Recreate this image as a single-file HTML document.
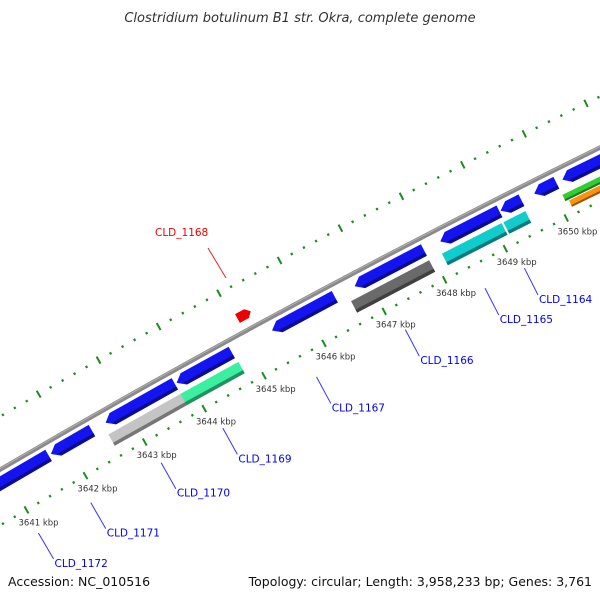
<!DOCTYPE html>
<html><head><meta charset="utf-8"><style>
html,body{margin:0;background:#fff;width:600px;height:600px;overflow:hidden}
svg{display:block;overflow:hidden;font-family:"DejaVu Sans","Liberation Sans",sans-serif}
</style></head><body>
<svg id="map" width="600" height="600" viewBox="0 0 600 600" xmlns="http://www.w3.org/2000/svg">
<rect width="600" height="600" fill="#fff"/>
<text x="300" y="22" text-anchor="middle" font-size="13" font-style="italic" fill="#333">Clostridium botulinum B1 str. Okra, complete genome</text>
<g id="ticks"></g>
<circle cx="4742" cy="8586" r="9400" fill="none" stroke="#8a8a8a" stroke-width="4.5"/>
<circle cx="4742" cy="8586" r="9401" fill="none" stroke="#b0b0b0" stroke-width="1"/>
<g id="genes"></g>
<g id="labels"></g>
<text x="8" y="586" font-size="12.5" fill="#111">Accession: NC_010516</text>
<text x="592" y="586" text-anchor="end" font-size="12.5" fill="#111">Topology: circular; Length: 3,958,233 bp; Genes: 3,761</text>
</svg>
<script>
const tickLabels = [3641,3642,3643,3644,3645,3646,3647,3648,3649,3650];
const geneStarts = [3640.5,3641.72,3642.64,3643.83,3645.42,3646.79,3648.2,3649.19,3649.74,3650.2, 3642.59,3643.8,3646.64,3648.14,3649.15,3650.1,3650.15];
const geneEnds   = [3641.68,3642.41,3643.80,3644.75,3646.46,3647.93,3649.17,3649.53,3650.1,3652.5, 3643.82,3644.77,3647.93,3649.12,3649.51,3652.5,3652.5];
const geneRows   = [1,1,1,1,1,1,1,1,1,1, 2,2,2,2,2,3,4];
const geneColors = ["#1414f0","#1414f0","#1414f0","#1414f0","#1414f0","#1414f0","#1414f0","#1414f0","#1414f0","#1414f0","#c4c4c4","#3af0a0","#6a6a6a","#10cccc","#10cccc","#33cc33","#ff9010"];
const labelNames = ["CLD_1172","CLD_1171","CLD_1170","CLD_1169","CLD_1167","CLD_1166","CLD_1165","CLD_1164"];
const labelKbp   = [3640.98,3641.87,3643.06,3644.1,3645.67,3647.15,3648.47,3649.12];
const markerKbp = 3645.16;

const NS="http://www.w3.org/2000/svg";
const CX=4742, CY=8586;
function ang(k){return (-120.28+(k-3641)*0.4178)*Math.PI/180;}
function pt(k,r){const a=ang(k);return [CX+r*Math.cos(a),CY+r*Math.sin(a)];}
function mk(tag,attrs,parent){const e=document.createElementNS(NS,tag);for(const k in attrs)e.setAttribute(k,attrs[k]);parent.appendChild(e);return e;}
const ticks=document.getElementById('ticks'), genes=document.getElementById('genes'), labels=document.getElementById('labels');

[9352,9446].forEach((R,ri)=>{
  for(let i=0;i<=70;i++){
    const k=3639.6+i*0.2;
    const major=Math.abs(k-Math.round(k))<0.01;
    const h=major?4:1.2;
    const p1=pt(k,R-h), p2=pt(k,R+h);
    const l=mk('line',{x1:p1[0],y1:p1[1],x2:p2[0],y2:p2[1],stroke:'#1f8a1f','stroke-width':major?2:2.2},ticks);
    
    
  }
});
tickLabels.forEach(k=>{
  const p=pt(k,9336);
  const t=mk('text',{x:p[0]+4,y:p[1]+2,'text-anchor':'middle','font-size':'8.5',fill:'#333'},ticks);
  t.textContent=k+' kbp';
  
  
});

const rowR={1:9388,2:9370,3:9371,4:9363};
const rowH={1:13,2:13,3:7,4:7};
function darker(c){const n=parseInt(c.slice(1),16);const f=v=>Math.round(v*0.6);return `rgb(${f(n>>16)},${f((n>>8)&255)},${f(n&255)})`;}
geneStarts.forEach((s,i)=>{
  const e=geneEnds[i], row=geneRows[i], r=rowR[row], h=rowH[row];
  const arrow=row===1?0.12:0;
  const pts=[pt(s+arrow,r+h/2),pt(e,r+h/2),pt(e,r-h/2),pt(s+arrow,r-h/2)];
  if(arrow) pts.push(pt(s,r));
  const g=mk('g',{},genes);
  
  
  mk('polygon',{points:pts.map(p=>p.join(',')).join(' '),fill:geneColors[i]},g);
  const bh=h>8?3.5:2;
  const bpts=[pt(s+arrow*0.75,r-h/2+bh),pt(e,r-h/2+bh),pt(e,r-h/2),pt(s+arrow,r-h/2)];
  mk('polygon',{points:bpts.map(p=>p.join(',')).join(' '),fill:darker(geneColors[i])},g);
});

{
  const r=9415, s=markerKbp-0.1, e=markerKbp+0.1;
  const pts=[pt(s,r+5),pt(e-0.05,r+5),pt(e+0.02,r),pt(e-0.05,r-5),pt(s,r-5)];
  const m=mk('polygon',{points:pts.map(p=>p.join(',')).join(' '),fill:'#ee0000'},genes);
  
  
}

labelNames.forEach((n,i)=>{
  const p1=pt(labelKbp[i],9326), p2=pt(labelKbp[i],9296);
  const l=mk('line',{x1:p1[0],y1:p1[1],x2:p2[0],y2:p2[1],stroke:'#3333ff','stroke-width':1},labels);
  
  
  const t=mk('text',{x:p2[0]+1,y:p2[1]+8,'font-size':'10.5',fill:'#0000ee'},labels);
  t.textContent=n;
  
  
});
{
  const l=mk('line',{x1:226,y1:278,x2:208,y2:248,stroke:'#ee2222','stroke-width':1},labels);
  
  
  const t=mk('text',{x:155,y:236,'font-size':'10.5',fill:'#ee0000'},labels);
  t.textContent='CLD_1168';
  
  
}
</script>
</body></html>
